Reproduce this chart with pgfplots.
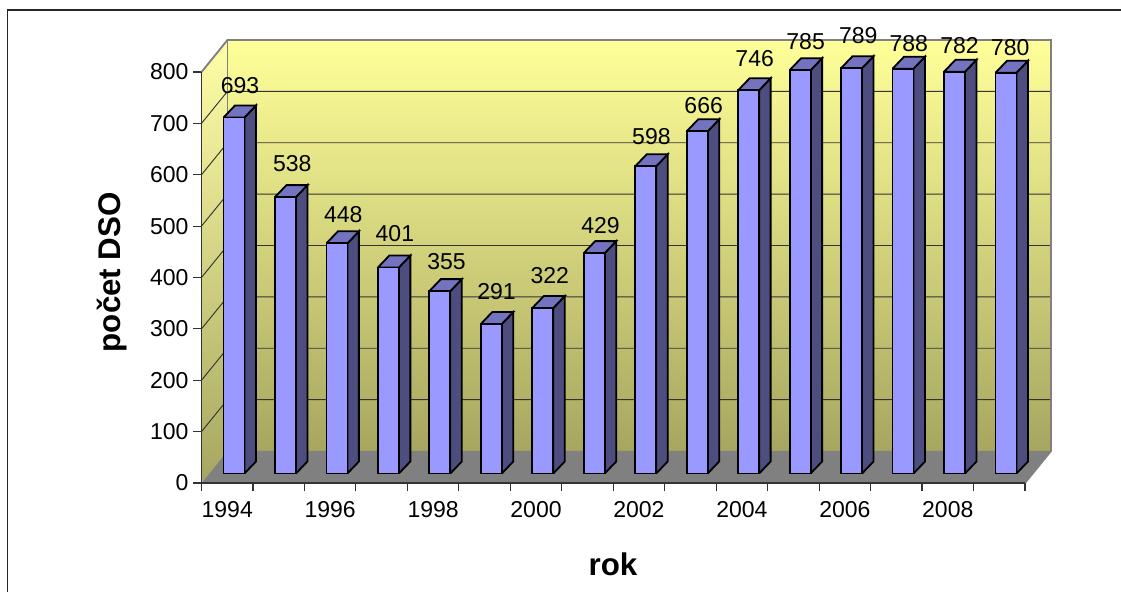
\documentclass[border=0pt]{standalone}
\usepackage{fontspec}
\setmainfont{Liberation Sans}
\usepackage{pgfplots}
\pgfplotsset{compat=1.18}

\definecolor{wallTop}{HTML}{FFFF99}
\definecolor{wallBot}{HTML}{A6A660}
\definecolor{floorGray}{HTML}{808080}
\definecolor{barFront}{HTML}{9999FF}
\definecolor{barSide}{HTML}{4D4D80}
\definecolor{barTop}{HTML}{7373BF}

% 1 px of the reference = 0.75pt
% one category = 51.5 px, 100 units = 51.375 px

% wall depth: 26 px right, 32 px up
\def\wx{0.5049}
\def\wy{62.3}

% one 3D bar: #1 category index, #2 value
\newcommand{\threedbar}[2]{%
  \pgfmathsetmacro{\xa}{#1+0.4272}%
  \pgfmathsetmacro{\xb}{\xa+0.4078}%
  \pgfmathsetmacro{\xc}{\xb+0.2233}%
  \pgfmathsetmacro{\xd}{\xa+0.2233}%
  \pgfmathsetmacro{\ya}{18.49}%
  \pgfmathsetmacro{\yb}{#2+18.49}%
  \pgfmathsetmacro{\yc}{\yb+23.36}%
  \pgfmathsetmacro{\yd}{\ya+23.36}%
  \edef\tmp{%
    \noexpand\addplot[barface, fill=barSide] coordinates {(\xb,\ya) (\xc,\yd) (\xc,\yc) (\xb,\yb) (\xb,\ya)};
    \noexpand\addplot[barface, fill=barTop] coordinates {(\xa,\yb) (\xb,\yb) (\xc,\yc) (\xd,\yc) (\xa,\yb)};
    \noexpand\addplot[barface, fill=barFront] coordinates {(\xa,\ya) (\xb,\ya) (\xb,\yb) (\xa,\yb) (\xa,\ya)};
  }\tmp
}

% grid line on side wall and back wall
\newcommand{\gridline}[1]{%
  \pgfmathsetmacro{\yy}{#1+\wy}%
  \edef\tmp{%
    \noexpand\addplot[gridface] coordinates {(0,#1) (\wx,\yy) (16.5049,\yy)};
  }\tmp
}

% value label: #1 x, #2 value, #3 #4 offset in px as in the reference
\newcommand{\valuelabel}[4]{%
  \addplot[draw=none, point meta=y, nodes near coords,
    every node near coord/.append style={anchor=base, xshift=#3*0.75pt, yshift=#4*0.75pt,
      inner sep=0pt, font=\fontsize{17.25}{20}\selectfont, black},
  ] coordinates {(#1,#2)};
}

\begin{document}
\begin{tikzpicture}

\path[x=0.75pt, y=0.75pt, use as bounding box] (-201.5,-109) rectangle (919.5,483);
\draw[x=0.75pt, y=0.75pt, black!85, line width=1.1pt] (-194,-120) -- (-194,473) -- (930,473);

\pgfplotsset{
  barface/.style={draw=black, line width=1.35pt, line join=miter},
  gridface/.style={draw=black!80, line width=0.7pt},
}

\begin{axis}[
  at={(0,0)}, anchor=south west,
  scale only axis,
  width=617.6pt, height=308.25pt,
  xmin=0, xmax=16,
  ymin=0, ymax=800,
  clip=false,
  axis on top,
  axis lines*=left,
  axis line style={-, black!80, line width=0.9pt},
  tick align=outside,
  tick style={black!80, line width=0.9pt},
  major tick length=6.2pt,
  xtick={0,1,...,16},
  xticklabels={},
  extra x ticks={0.5,2.5,4.5,6.5,8.5,10.5,12.5,14.5},
  extra x tick labels={1994,1996,1998,2000,2002,2004,2006,2008},
  extra x tick style={major tick length=0pt, xticklabel style={yshift=-10.5pt}},
  ytick={0,100,...,800},
  /pgf/number format/assume math mode=true,
  /pgf/number format/1000 sep={},
  tick label style={font=\fontsize{17.25}{20}\selectfont},
  xlabel={rok},
  ylabel={počet DSO},
  xlabel style={font=\fontsize{23.5}{27}\selectfont\bfseries, at={(axis description cs:0.4997,-0.224)}, anchor=base},
  ylabel style={font=\fontsize{23.5}{27}\selectfont\bfseries, at={(axis description cs:-0.0978,0.513)}, anchor=base, rotate=0},
]

% side wall
\addplot[draw=none, top color=wallTop!85!white, bottom color=wallBot] coordinates {(0,0) (\wx,\wy) (\wx,862.3) (0,800)};
% back wall
\addplot[draw=none, top color=wallTop, bottom color=wallBot] coordinates {(\wx,\wy) (16.5049,\wy) (16.5049,862.3) (\wx,862.3)};
% floor
\addplot[draw=none, fill=floorGray] coordinates {(0,0) (16,0) (16.5049,\wy) (\wx,\wy)};

\gridline{100}
\gridline{200}
\gridline{300}
\gridline{400}
\gridline{500}
\gridline{600}
\gridline{700}

% wall outline
\addplot[draw=floorGray, line width=1.4pt] coordinates {(0,800) (\wx,862.3) (16.5049,862.3) (16.5049,\wy) (16,0)};
\addplot[draw=floorGray, line width=1.4pt] coordinates {(\wx,862.3) (\wx,\wy)};

\threedbar{0}{693}
\threedbar{1}{538}
\threedbar{2}{448}
\threedbar{3}{401}
\threedbar{4}{355}
\threedbar{5}{291}
\threedbar{6}{322}
\threedbar{7}{429}
\threedbar{8}{598}
\threedbar{9}{666}
\threedbar{10}{746}
\threedbar{11}{785}
\threedbar{12}{789}
\threedbar{13}{788}
\threedbar{14}{782}
\threedbar{15}{780}

\valuelabel{0.5}{693}{12.75}{33.0}
\valuelabel{1.5}{538}{13.55}{35.6}
\valuelabel{2.5}{448}{13.05}{30.1}
\valuelabel{3.5}{401}{13.25}{35.0}
\valuelabel{4.5}{355}{13.45}{31.6}
\valuelabel{5.5}{291}{11.95}{34.5}
\valuelabel{6.5}{322}{13.75}{33.6}
\valuelabel{7.5}{429}{12.95}{29.6}
\valuelabel{8.5}{598}{12.45}{30.8}
\valuelabel{9.5}{666}{13.25}{27.8}
\valuelabel{10.5}{746}{12.75}{33.7}
\valuelabel{11.5}{785}{12.25}{30.4}
\valuelabel{12.5}{789}{13.45}{34.4}
\valuelabel{13.5}{788}{12.55}{26.5}
\valuelabel{14.5}{782}{11.75}{27.9}
\valuelabel{15.5}{780}{10.95}{26.3}

\end{axis}
\end{tikzpicture}
\end{document}
